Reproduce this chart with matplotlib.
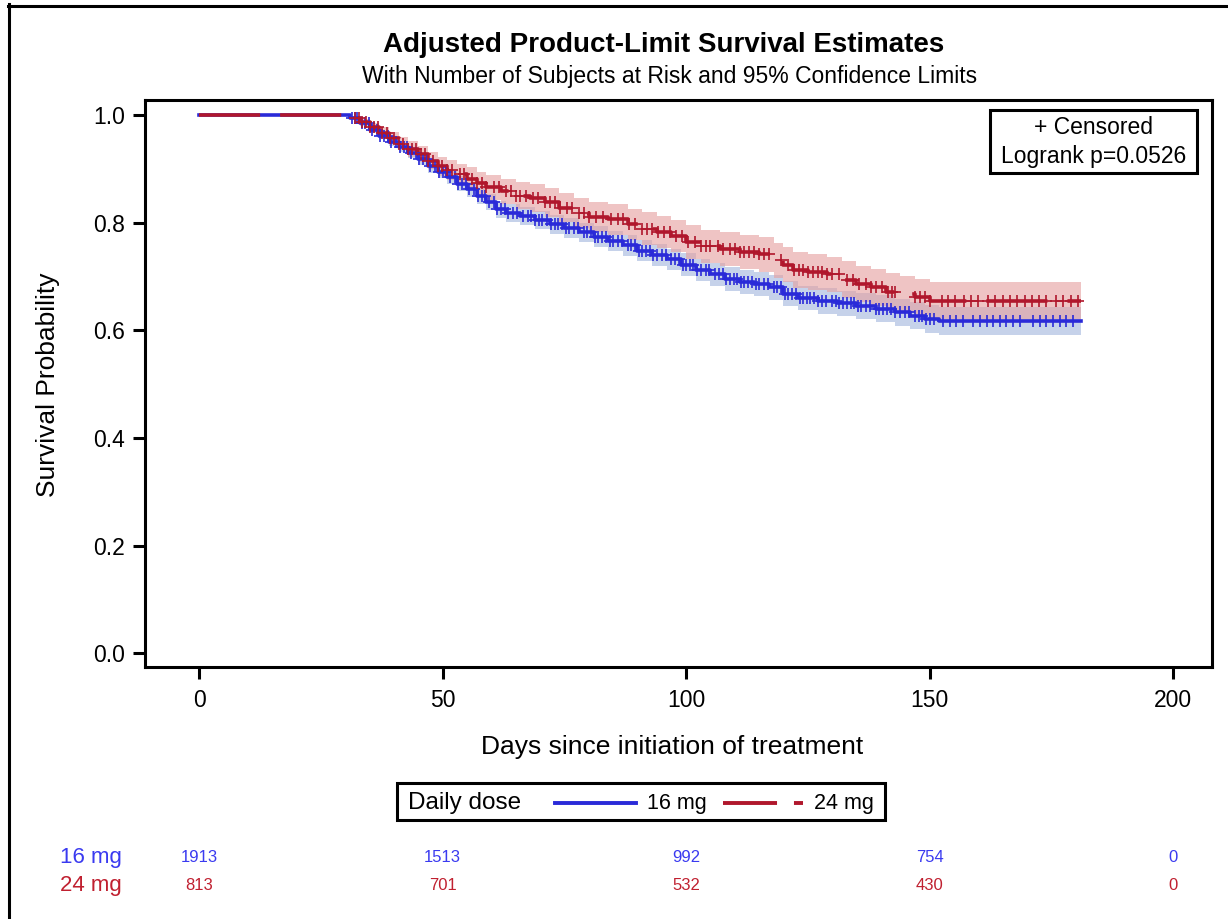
import numpy as np
import matplotlib
matplotlib.use('Agg')
import matplotlib.pyplot as plt
from matplotlib.lines import Line2D
from matplotlib.patches import Rectangle
import matplotlib.transforms as mtransforms

plt.rcParams['font.family'] = ['Liberation Sans', 'DejaVu Sans']
plt.rcParams['lines.scale_dashes'] = False

# ---------------- data ----------------
groups = ['16 mg', '24 mg']

time_16 = [0, 31, 33, 35, 37, 39, 41, 43, 45, 47, 49, 51, 53, 55, 57, 59, 61, 63, 66, 69,
           72, 75, 78, 81, 84, 87, 90, 93, 96, 99, 102, 105, 108, 111, 114, 117, 120, 123,
           127, 131, 135, 139, 143, 146, 149, 152, 181]
surv_16 = [1.0, .995, .985, .972, .962, .950, .940, .930, .918, .905, .895, .885, .872, .862,
           .850, .838, .825, .818, .812, .805, .797, .790, .782, .774, .766, .758, .748, .740,
           .732, .722, .712, .704, .695, .690, .686, .680, .668, .660, .655, .650, .645, .640,
           .634, .627, .621, .618, .618]
ci_half_16 = [0, .003, .005, .006, .007, .008, .009, .010, .011, .012, .012, .013, .014, .014,
              .015, .015, .016, .016, .017, .017, .018, .018, .018, .019, .019, .019, .020,
              .020, .020, .021, .021, .021, .022, .022, .022, .023, .023, .023, .024, .024,
              .024, .025, .025, .025, .026, .026, .026]

time_24 = [0, 31, 33, 35, 37, 39, 41, 43, 45, 47, 49, 51, 53, 55, 57, 59, 62, 65, 68, 71,
           74, 77, 80, 84, 88, 91, 94, 97, 100, 103, 107, 111, 115, 118, 120, 122, 125, 129,
           132, 135, 138, 141, 144, 147, 150, 181]
surv_24 = [1.0, .995, .987, .977, .967, .957, .947, .937, .927, .915, .905, .898, .890, .882,
           .873, .866, .858, .850, .845, .838, .828, .818, .811, .806, .797, .789, .783, .775,
           .764, .756, .751, .746, .741, .730, .722, .712, .708, .704, .694, .686, .680, .672,
           .667, .662, .655, .655]
ci_half_24 = [0, .004, .006, .008, .010, .011, .012, .014, .015, .016, .018, .019, .020, .021,
              .022, .023, .024, .025, .026, .027, .027, .028, .028, .029, .029, .030, .030,
              .030, .031, .031, .031, .032, .032, .032, .033, .033, .033, .033, .034, .034,
              .034, .034, .034, .034, .034, .034]

censor_16 = [31.5, 32, 32.5, 33.5, 34, 34.8, 35.5, 36.5, 37.2, 38, 38.8, 39.5, 40.5, 41.3,
             42, 42.7, 43.5, 44.5, 45.2, 46, 46.8, 47.5, 48.5, 49.2, 50, 50.8, 51.5, 52.5,
             53.2, 54, 54.8, 55.5, 56.5, 57.3, 58, 58.8, 59.5, 60.5, 61.2, 62, 62.8, 63.5,
             64.5, 65.3, 66.5, 67.5, 68.2, 69, 69.8, 70.5, 71.5, 72.2, 73, 73.8, 74.5, 75.3,
             76, 77, 77.8, 79, 79.7, 80.5, 81.3, 82, 82.8, 83.5, 84.3, 85, 86, 86.8, 88, 88.7,
             89.5, 90.3, 91, 91.8, 92.5, 93.3, 94, 95, 95.8, 97, 97.7, 98.5, 99.3, 100, 100.8,
             101.5, 102.3, 103, 104, 104.8, 106, 106.7, 107.5, 108.3, 109, 109.8, 110.5, 111.3,
             112, 112.8, 113.5, 114.3, 115, 116, 116.8, 118, 118.7, 119.5, 120.3, 121, 121.8,
             122.5, 123.3, 124, 124.8, 125.5, 126.3, 127, 128, 128.8, 130, 130.7, 131.5, 132.3,
             133, 133.8, 134.5, 135.3, 136, 137, 137.8, 139, 139.7, 140.5, 141.3, 142, 143,
             144, 145, 145.8, 147, 147.8, 148.5, 149.3, 150, 151, 152.8, 154.1, 155.5, 156.9,
             158.9, 160.3, 161.7, 163, 164.4, 165.8, 167.1, 168.5, 171.2, 172.6, 174, 175.3,
             176.7, 178.1, 179.5]
censor_24 = [32, 32.8, 33.5, 34.3, 35, 36, 36.8, 37.6, 38.5, 39.2, 40, 41, 41.8, 43, 43.8,
             44.6, 45.5, 46.3, 47, 48, 49, 49.8, 51, 52, 53.5, 54.5, 56, 57, 58, 59, 60.5,
             61.5, 63, 64, 65, 66, 67.2, 68.5, 69.5, 71, 72, 73, 74.2, 75.5, 76.5, 78, 79,
             80, 81.5, 83, 84.5, 86, 87, 88.2, 89.5, 91, 92, 93, 94.3, 95.5, 96.8, 98, 99.2,
             100.5, 101.8, 103, 104, 105, 106.5, 107.6, 109, 110, 111, 112, 113, 114, 115, 116,
             117, 119.5, 121, 122.2, 123.2, 124, 125, 126, 127, 128, 129, 130, 131.5, 133,
             134.2, 135.5, 137, 138, 139, 140.2, 141.5, 142.3, 143, 147, 148, 149, 150,
             152.5, 153.8, 155.2, 157, 158.5, 160, 162, 163.5, 165, 166.5, 168, 169.5, 171,
             172.5, 174, 176, 177.5, 179, 180.5]

risk_times = [0, 50, 100, 150, 200]
risk_16 = [1913, 1513, 992, 754, 0]
risk_24 = [813, 701, 532, 430, 0]

x_ticks = [0, 50, 100, 150, 200]
y_ticks = [0.0, 0.2, 0.4, 0.6, 0.8, 1.0]

# ---------------- style ----------------
BLUE = '#2A2AD8'
RED = '#B0172C'
BLUE_BAND = '#C6D2EA'
RED_BAND = (0.90, 0.63, 0.63)
BLUE_TXT = '#3A3AF0'
RED_TXT = '#C02030'
LW_FRAME = 2.2

W, H = 1228, 919
fig = plt.figure(figsize=(W / 100, H / 100), dpi=100)


def fx(px):
    return px / W


def fy(py):
    return 1 - py / H


ax = fig.add_axes([fx(145), fy(667), fx(1212) - fx(145), fy(100) - fy(667)])
ax.set_xlim(-11.1, 208)
ax.set_ylim(-0.0255, 1.028)

t16 = np.array(time_16); s16 = np.array(surv_16); h16 = np.array(ci_half_16)
t24 = np.array(time_24); s24 = np.array(surv_24); h24 = np.array(ci_half_24)

ax.fill_between(t16, s16 - h16, s16 + h16, step='post', color=BLUE_BAND, lw=0, zorder=1)
ax.fill_between(t24, s24 - h24, s24 + h24, step='post', color=RED_BAND, alpha=0.62, lw=0,
                zorder=2)

ax.step(t16, s16, where='post', color=BLUE, lw=2.6, zorder=3)
red_line, = ax.step(t24, s24, where='post', color=RED, lw=2.6, zorder=4)
red_line.set_linestyle((0, (44, 14.4)))


def surv_at(times, surv, c):
    idx = np.searchsorted(times, c, side='right') - 1
    return surv[idx]


c16 = np.array(censor_16)
c24 = np.array(censor_24)
ax.plot(c16, surv_at(t16, s16, c16), ls='none', marker='+', ms=8.5, mew=1.2, color=BLUE,
        zorder=5)
ax.plot(c24, surv_at(t24, s24, c24), ls='none', marker='+', ms=8.5, mew=1.2, color=RED,
        zorder=6)

ax.set_xticks(x_ticks)
ax.set_xticklabels([str(v) for v in x_ticks])
ax.set_yticks(y_ticks)
ax.set_yticklabels([f'{v:.1f}' for v in y_ticks])
ax.tick_params(axis='both', width=LW_FRAME, length=8.6, labelsize=16.5, color='black')
ax.tick_params(axis='x', pad=7)
ax.tick_params(axis='y', pad=6)
for sp in ax.spines.values():
    sp.set_linewidth(LW_FRAME)

# titles and axis labels
fig.text(fx(664), fy(45), 'Adjusted Product-Limit Survival Estimates', ha='center',
         va='center', fontsize=20, fontweight='bold')
fig.text(fx(670), fy(76), 'With Number of Subjects at Risk and 95% Confidence Limits',
         ha='center', va='center', fontsize=16.5)
fig.text(fx(672), fy(747), 'Days since initiation of treatment', ha='center', va='center',
         fontsize=19)
fig.text(fx(48), fy(385), 'Survival Probability', ha='center', va='center', rotation=90,
         fontsize=19)

# censored / logrank box
fig.add_artist(Rectangle((fx(990), fy(173)), fx(1197) - fx(990), fy(110) - fy(173),
                         transform=fig.transFigure, fill=False, lw=LW_FRAME,
                         edgecolor='black', zorder=10))
fig.text(fx(1093.5), fy(127), '+ Censored', ha='center', va='center', fontsize=16.5)
fig.text(fx(1093.5), fy(156), 'Logrank p=0.0526', ha='center', va='center', fontsize=16.5)

# legend
fig.add_artist(Rectangle((fx(397), fy(820)), fx(885) - fx(397), fy(783) - fy(820),
                         transform=fig.transFigure, fill=False, lw=LW_FRAME,
                         edgecolor='black'))
fig.text(fx(408), fy(803), 'Daily dose', ha='left', va='center', fontsize=17.5)
fig.add_artist(Line2D([fx(555), fx(636)], [fy(802.5), fy(802.5)], transform=fig.transFigure,
                      color=BLUE, lw=2.8))
fig.text(fx(647), fy(803), groups[0], ha='left', va='center', fontsize=15.5)
leg_red = Line2D([fx(723), fx(803)], [fy(802.5), fy(802.5)], transform=fig.transFigure,
                 color=RED, lw=2.8, linestyle=(0, (38.9, 12.2)))
fig.add_artist(leg_red)
fig.text(fx(814), fy(803), groups[1], ha='left', va='center', fontsize=15.5)

# number at risk
blend = mtransforms.blended_transform_factory(ax.transData, fig.transFigure)
fig.text(fx(122), fy(858), groups[0], ha='right', va='center', fontsize=16, color=BLUE_TXT)
fig.text(fx(122), fy(886), groups[1], ha='right', va='center', fontsize=16, color=RED_TXT)
for tv, n1, n2 in zip(risk_times, risk_16, risk_24):
    ax.text(tv, fy(858), str(n1), transform=blend, ha='center', va='center', fontsize=12,
            color=BLUE_TXT, clip_on=False)
    ax.text(tv, fy(885), str(n2), transform=blend, ha='center', va='center', fontsize=12,
            color=RED_TXT, clip_on=False)

# outer frame (left and top edges visible)
fig.add_artist(Line2D([fx(9), fx(9)], [fy(4), 0], transform=fig.transFigure, color='black',
                      lw=LW_FRAME))
fig.add_artist(Line2D([fx(7.5), 1], [fy(5.5), fy(5.5)], transform=fig.transFigure,
                      color='black', lw=LW_FRAME))

fig.savefig('out.png', dpi=100)
